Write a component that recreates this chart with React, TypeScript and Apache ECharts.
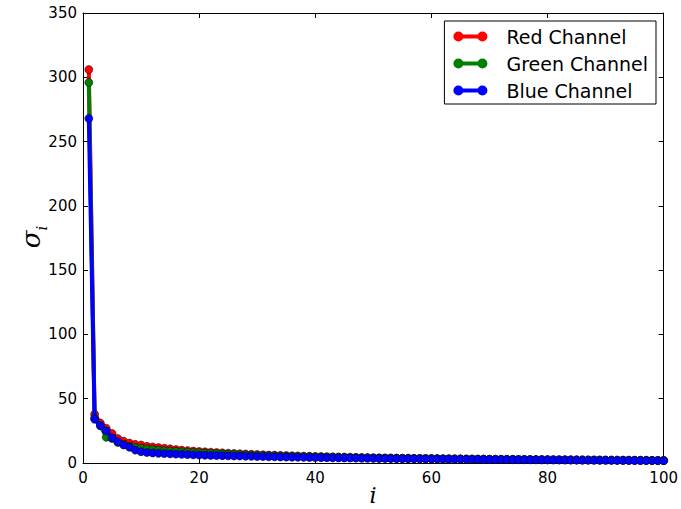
import React, { useEffect, useRef } from "react";
import * as echarts from "echarts";

const indices: number[] = [];
for (let k = 1; k <= 100; k++) indices.push(k);

const redValues = [
  306, 38, 31, 27, 23, 19, 17, 15.5, 14.5, 14,
  13, 12.5, 12, 11.5, 11, 10.5, 10, 9.6, 9.3, 9,
  8.7, 8.4, 8.1, 7.9, 7.6, 7.4, 7.2, 7.0, 6.8, 6.6,
  6.4, 6.2, 6.1, 5.9, 5.8, 5.6, 5.5, 5.3, 5.2, 5.1,
  5.0, 4.9, 4.8, 4.7, 4.6, 4.5, 4.4, 4.3, 4.2, 4.1,
  4.0, 3.95, 3.9, 3.8, 3.75, 3.7, 3.6, 3.55, 3.5, 3.45,
  3.4, 3.35, 3.3, 3.25, 3.2, 3.15, 3.1, 3.05, 3.0, 2.95,
  2.9, 2.88, 2.85, 2.8, 2.77, 2.73, 2.7, 2.66, 2.63, 2.6,
  2.57, 2.54, 2.5, 2.47, 2.44, 2.41, 2.38, 2.35, 2.32, 2.3,
  2.27, 2.24, 2.21, 2.18, 2.15, 2.12, 2.1, 2.07, 2.04, 2.0,
];

const greenValues = [
  296, 35, 29, 20, 19, 16, 14.5, 13, 12, 11.5,
  11, 10.5, 10, 9.6, 9.3, 9, 8.7, 8.4, 8.2, 8.0,
  7.7, 7.5, 7.3, 7.1, 6.9, 6.7, 6.5, 6.3, 6.1, 6.0,
  5.8, 5.7, 5.5, 5.4, 5.3, 5.2, 5.1, 5.0, 4.9, 4.8,
  4.7, 4.6, 4.5, 4.4, 4.3, 4.2, 4.1, 4.0, 3.95, 3.9,
  3.85, 3.8, 3.75, 3.7, 3.65, 3.6, 3.55, 3.5, 3.45, 3.4,
  3.35, 3.3, 3.25, 3.2, 3.15, 3.1, 3.05, 3.0, 2.97, 2.93,
  2.9, 2.86, 2.83, 2.8, 2.76, 2.72, 2.68, 2.64, 2.6, 2.57,
  2.54, 2.5, 2.47, 2.44, 2.41, 2.38, 2.35, 2.32, 2.29, 2.26,
  2.23, 2.2, 2.17, 2.14, 2.11, 2.08, 2.05, 2.02, 1.99, 1.96,
];

const blueValues = [
  268, 34, 29, 25, 19.7, 16.6, 14, 12.2, 10, 8.8,
  8.2, 7.8, 7.5, 7.3, 7.1, 6.9, 6.7, 6.5, 6.3, 6.2,
  6.0, 5.9, 5.8, 5.7, 5.6, 5.5, 5.4, 5.3, 5.2, 5.1,
  5.0, 4.9, 4.8, 4.7, 4.6, 4.5, 4.45, 4.4, 4.3, 4.2,
  4.15, 4.1, 4.0, 3.95, 3.9, 3.85, 3.8, 3.7, 3.65, 3.6,
  3.55, 3.5, 3.45, 3.4, 3.35, 3.3, 3.25, 3.2, 3.15, 3.1,
  3.05, 3.0, 2.97, 2.93, 2.9, 2.86, 2.83, 2.8, 2.76, 2.72,
  2.68, 2.64, 2.6, 2.57, 2.54, 2.5, 2.47, 2.44, 2.41, 2.38,
  2.35, 2.32, 2.29, 2.26, 2.23, 2.2, 2.17, 2.14, 2.11, 2.08,
  2.05, 2.02, 1.99, 1.96, 1.93, 1.9, 1.87, 1.84, 1.81, 1.78,
];

const seriesNames = ["Red Channel", "Green Channel", "Blue Channel"];
const seriesColors = ["#ff0000", "#008000", "#0000ff"];
const seriesData = [redValues, greenValues, blueValues];

const legendIcon =
  "path://M5,0 A5,5 0 1,1 5,10 A5,5 0 1,1 5,0 Z M29,0 A5,5 0 1,1 29,10 A5,5 0 1,1 29,0 Z M5,3 L29,3 L29,7 L5,7 Z";

export default function App() {
  const ref = useRef<HTMLDivElement>(null);
  useEffect(() => {
    if (!ref.current) return;
    const chart = echarts.init(ref.current, null, { renderer: "svg" });
    const font = "DejaVu Sans";
    const tickStyle = { show: true, inside: true, length: 5, lineStyle: { color: "#000", width: 1 } };
    const lineStyle = { show: true, onZero: false, lineStyle: { color: "#000", width: 1 } };
    chart.setOption({
      animation: false,
      backgroundColor: "#fff",
      grid: { left: 83, top: 13, right: 17, bottom: 46, containLabel: false },
      legend: {
        right: 25,
        top: 21,
        orient: "vertical",
        data: seriesNames.map((n) => ({ name: n, icon: legendIcon })),
        itemWidth: 34,
        itemHeight: 10,
        itemGap: 8,
        padding: [6, 8, 4, 9],
        borderColor: "#000",
        borderWidth: 1,
        borderRadius: 0,
        backgroundColor: "#fff",
        itemStyle: { borderWidth: 0 },
        textStyle: { fontFamily: font, fontSize: 19, color: "#000", padding: [0, 0, 0, 14] },
      },
      xAxis: [
        {
          type: "value",
          min: 0,
          max: 100,
          interval: 20,
          position: "bottom",
          axisLine: lineStyle,
          axisTick: tickStyle,
          axisLabel: { color: "#000", fontFamily: font, fontSize: 15, margin: 7 },
          splitLine: { show: false },
        },
        {
          type: "value",
          min: 0,
          max: 100,
          interval: 20,
          position: "top",
          axisLine: lineStyle,
          axisTick: tickStyle,
          axisLabel: { show: false },
          splitLine: { show: false },
        },
      ],
      yAxis: [
        {
          type: "value",
          min: 0,
          max: 350,
          interval: 50,
          position: "left",
          axisLine: lineStyle,
          axisTick: tickStyle,
          axisLabel: { color: "#000", fontFamily: font, fontSize: 15, margin: 6 },
          splitLine: { show: false },
        },
        {
          type: "value",
          min: 0,
          max: 350,
          interval: 50,
          position: "right",
          axisLine: lineStyle,
          axisTick: tickStyle,
          axisLabel: { show: false },
          splitLine: { show: false },
        },
      ],
      series: seriesNames.map((name, s) => ({
        name,
        type: "line",
        xAxisIndex: 0,
        yAxisIndex: 0,
        data: indices.map((k, j) => [k, seriesData[s][j]]),
        symbol: "circle",
        symbolSize: 8,
        showSymbol: true,
        clip: false,
        lineStyle: { color: seriesColors[s], width: 4 },
        itemStyle: { color: seriesColors[s], borderColor: "#000", borderWidth: 0.5 },
        z: 2 + s,
      })),
      graphic: [
        {
          type: "text",
          x: 373,
          y: 495,
          style: {
            text: "i",
            fontFamily: "DejaVu Serif",
            fontStyle: "italic",
            fontSize: 22,
            fill: "#000",
            align: "center",
            verticalAlign: "middle",
          },
        },
        {
          type: "text",
          x: 31,
          y: 237,
          rotation: Math.PI / 2,
          style: {
            text: "{a|σ}{b|i}",
            align: "center",
            verticalAlign: "middle",
            rich: {
              a: { fontFamily: "DejaVu Serif", fontStyle: "italic", fontSize: 26, fill: "#000", color: "#000", verticalAlign: "bottom" },
              b: { fontFamily: "DejaVu Serif", fontStyle: "italic", fontSize: 15, fill: "#000", color: "#000", verticalAlign: "bottom", padding: [0, 0, -5, 0] },
            },
          },
        },
      ],
    });
    return () => chart.dispose();
  }, []);
  return <div ref={ref} style={{ width: 681, height: 509, position: "absolute", left: 0, top: 0 }} />;
}
